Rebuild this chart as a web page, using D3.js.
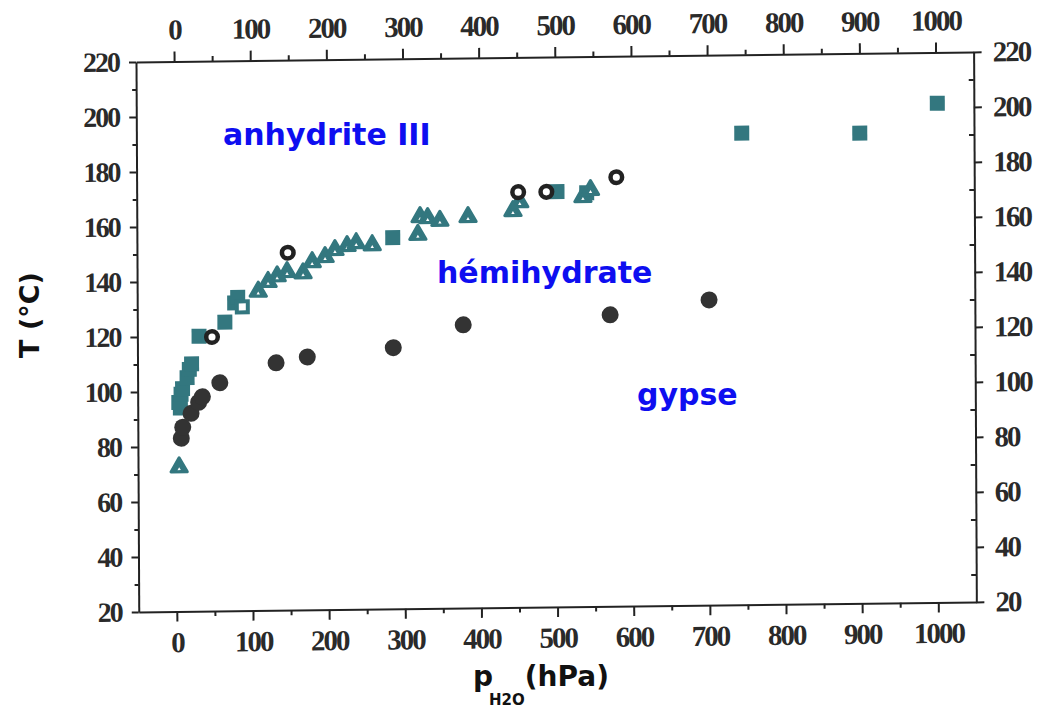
<!DOCTYPE html>
<html><head><meta charset="utf-8">
<script src="https://cdn.jsdelivr.net/npm/d3@7"></script>
<style>
body{margin:0;background:#fff;}
</style></head><body>
<svg id="c" width="1040" height="711"></svg>
<script>
// ---- data ----
const xMajor = [0,100,200,300,400,500,600,700,800,900,1000];
const xMinor = [50,150,250,350,450,550,650,750,850,950];
const yMajor = [20,40,60,80,100,120,140,160,180,200,220];
const yMinor = [30,50,70,90,110,130,150,170,190,210];

// gypse -> hemihydrate (filled dark circles)
const gypsePts = [[7,83],[9,87],[20,92],[30,96],[35,98],[58,103],[132,110],[173,112],[286,115],[378,123],[571,126],[701,131]];
// hemihydrate -> anhydrite III (teal filled squares)
const squarePts = [[4,96],[6,94],[7,99],[9,101],[15,105],[18,108],[21,110],[31,120],[65,125],[78,132],[82,134],[286,155],[502,171],[541,170.5],[745,191.5],[900,191],[1002,201.5]];
const openSquarePts = [[88,130.5]];
// teal triangles
const trianglePts = [[4,72.5],[109,136],[122,139.5],[134,141.5],[147,143],[168,142.5],[180,146.5],[197,148.3],[210,150.8],[226,152.2],[238,153.2],[259,152.4],[319,156],[322,162.4],[332,162],[348,161],[385,162.2],[444,164.2],[453,167.4],[536,169],[546,171.5]];
// open dark circles
const openCirclePts = [[48,119.7],[148,150],[451,171],[488,171],[580,176]];

const regionLabels = ["anhydrite III", "hémihydrate", "gypse"];
const yTitle = "T (°C)";
const xTitleMain = "p", xTitleSub = "H2O", xTitleUnit = "(hPa)";

// ---- drawing ----
const svg = d3.select("#c");
svg.append("rect").attr("width",1040).attr("height",711).attr("fill","#fff");

const x = d3.scaleLinear().domain([-50,1050]).range([136,973.6]);
const y = d3.scaleLinear().domain([20,220]).range([612,62]);

const teal = "#33777f", dark = "#333333", axisCol = "#222";

// scanned page is slightly skewed
const g = svg.append("g").attr("transform","matrix(1,-0.012,0.005,1,-0.31,1.63)");

function styleAxis(sel, fs){
  sel.select(".domain").attr("stroke",axisCol).attr("stroke-width",2);
  sel.selectAll(".tick line").attr("stroke",axisCol).attr("stroke-width",2);
  sel.selectAll(".tick text").attr("fill","#2a2a2a")
     .attr("font-family","'Liberation Serif', serif").attr("font-weight","bold")
     .attr("font-size",fs).attr("letter-spacing","-2px");
}
const fmt = d3.format("d");

// bottom
const gb = g.append("g").attr("transform",`translate(0,${y(20)})`)
  .call(d3.axisBottom(x).tickValues(xMajor).tickSize(10).tickSizeOuter(0).tickPadding(10).tickFormat(fmt));
styleAxis(gb,29);
const gbm = g.append("g").attr("transform",`translate(0,${y(20)})`)
  .call(d3.axisBottom(x).tickValues(xMinor).tickSize(5).tickSizeOuter(0).tickFormat(""));
styleAxis(gbm,29); gbm.select(".domain").remove();

// top
const gt = g.append("g").attr("transform",`translate(0,${y(220)})`)
  .call(d3.axisTop(x).tickValues(xMajor).tickSize(10).tickSizeOuter(0).tickPadding(12).tickFormat(fmt));
styleAxis(gt,29);
const gtm = g.append("g").attr("transform",`translate(0,${y(220)})`)
  .call(d3.axisTop(x).tickValues(xMinor).tickSize(5).tickSizeOuter(0).tickFormat(""));
styleAxis(gtm,29); gtm.select(".domain").remove();

// left
const gl = g.append("g").attr("transform",`translate(${x(-50)},0)`)
  .call(d3.axisLeft(y).tickValues(yMajor).tickSize(7).tickSizeOuter(0).tickPadding(10).tickFormat(fmt));
styleAxis(gl,28);
const glm = g.append("g").attr("transform",`translate(${x(-50)},0)`)
  .call(d3.axisLeft(y).tickValues(yMinor).tickSize(4).tickSizeOuter(0).tickFormat(""));
styleAxis(glm,28); glm.select(".domain").remove();

// right
const gr = g.append("g").attr("transform",`translate(${x(1050)},0)`)
  .call(d3.axisRight(y).tickValues(yMajor).tickSize(8).tickSizeOuter(0).tickPadding(11).tickFormat(fmt));
styleAxis(gr,29);
const grm = g.append("g").attr("transform",`translate(${x(1050)},0)`)
  .call(d3.axisLeft(y).tickValues(yMinor).tickSize(5).tickSizeOuter(0).tickFormat(""));
styleAxis(grm,29); grm.select(".domain").remove();

// markers
const sq = 15;
g.append("g").selectAll("rect").data(squarePts).join("rect")
  .attr("x",d=>x(d[0])-sq/2).attr("y",d=>y(d[1])-sq/2).attr("width",sq).attr("height",sq)
  .attr("fill",teal);
g.append("g").selectAll("rect").data(openSquarePts).join("rect")
  .attr("x",d=>x(d[0])-sq/2+2).attr("y",d=>y(d[1])-sq/2+2).attr("width",sq-4).attr("height",sq-4)
  .attr("fill","#fff").attr("stroke",teal).attr("stroke-width",4);
const tri = d3.symbol().type(d3.symbolTriangle).size(115);
const triHole = d3.symbol().type(d3.symbolTriangle).size(5);
const tg = g.append("g").selectAll("g").data(trianglePts).join("g")
  .attr("transform",d=>`translate(${x(d[0])},${y(d[1])})`);
tg.append("path").attr("d",tri)
  .attr("fill",teal).attr("stroke",teal).attr("stroke-width",3).attr("stroke-linejoin","round");
tg.append("path").attr("d",triHole).attr("transform","translate(0,2)").attr("fill","#fff");
g.append("g").selectAll("circle").data(openCirclePts).join("circle")
  .attr("cx",d=>x(d[0])).attr("cy",d=>y(d[1])).attr("r",5.8)
  .attr("fill","#fff").attr("stroke","#222").attr("stroke-width",4.5);
g.append("g").selectAll("circle").data(gypsePts).join("circle")
  .attr("cx",d=>x(d[0])).attr("cy",d=>y(d[1])).attr("r",8.5)
  .attr("fill",dark);

// region labels (overlaid, not skewed)
const blue = "rgb(14,14,240)";
const labPos = [[223,145],[437,283],[637,405]];
svg.append("g").selectAll("text").data(regionLabels).join("text")
  .attr("x",(d,i)=>labPos[i][0]).attr("y",(d,i)=>labPos[i][1])
  .attr("fill",blue).attr("font-family","'DejaVu Sans', sans-serif")
  .attr("font-weight","bold").attr("font-size",30).text(d=>d);

// axis titles
svg.append("text").attr("transform","translate(39,315) rotate(-90)")
  .attr("text-anchor","middle").attr("font-family","'DejaVu Sans', sans-serif")
  .attr("font-weight","bold").attr("font-size",27).attr("fill","#111").text(yTitle);

const xt = svg.append("text").attr("x",473).attr("y",686)
  .attr("font-family","'DejaVu Sans', sans-serif").attr("font-weight","bold")
  .attr("font-size",28).attr("fill","#111");
xt.append("tspan").text(xTitleMain);
xt.append("tspan").attr("font-size",15).attr("dy",19).attr("dx",-4).text(xTitleSub);
xt.append("tspan").attr("dy",-19).attr("dx",0).text(xTitleUnit);
</script>
</body></html>
